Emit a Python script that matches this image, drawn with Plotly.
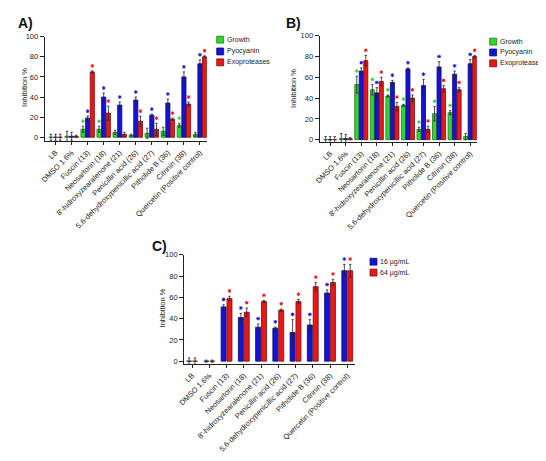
import plotly.graph_objects as go

# category labels (same for all three panels)
categories = [
    "LB", "DMSO 1.6%", "Fuscin (13)", "Neosartorin (18)",
    "8'-hidroxyzearalenone (21)", "Penicillin acid (26)",
    "5,6-dehydroxypenicillic acid (27)", "Pitholide B (36)",
    "Citrinin (38)", "Quercetin (Positive control)",
]
y_ticks = [0, 20, 40, 60, 80, 100]

# panel A
growth_a = [0, 1, 8, 8, 5, 2, 4, 6, 12, 3]
growth_a_err = [3, 5, 3, 3, 2, 1, 5, 4, 2, 2]
growth_a_sig = [0, 0, 1, 1, 0, 0, 0, 0, 1, 0]
pyo_a = [0, 1, 19, 40, 32, 37, 22, 34, 60, 73]
pyo_a_err = [3, 4, 2, 4, 3, 3, 1, 4, 5, 4]
pyo_a_sig = [0, 0, 1, 1, 1, 1, 1, 1, 1, 1]
exo_a = [0, 1, 65, 24, 3, 16, 8, 18, 33, 80]
exo_a_err = [3, 1, 1, 7, 2, 5, 6, 1, 2, 1]
exo_a_sig = [0, 0, 1, 1, 0, 1, 1, 1, 1, 1]

# panel B
growth_b = [0, 1, 53, 48, 42, 33, 10, 25, 26, 3]
growth_b_err = [3, 5, 8, 5, 1, 1, 2, 7, 2, 3]
growth_b_sig = [0, 0, 1, 1, 1, 1, 1, 1, 1, 0]
pyo_b = [0, 1, 66, 45, 55, 68, 52, 70, 63, 73]
pyo_b_err = [3, 4, 3, 5, 2, 1, 6, 5, 3, 4]
pyo_b_sig = [0, 0, 1, 1, 1, 1, 1, 1, 1, 1]
exo_b = [0, 1, 76, 56, 32, 40, 10, 49, 48, 80]
exo_b_err = [3, 1, 5, 4, 4, 3, 3, 3, 2, 1]
exo_b_sig = [0, 0, 1, 1, 1, 1, 1, 1, 1, 1]

# panel C
low_c = [0, 0, 51, 41, 32, 31, 27, 34, 64, 85]
low_c_err = [3, 1, 2, 4, 3, 1, 12, 5, 3, 6]
low_c_sig = [0, 0, 1, 1, 1, 1, 1, 1, 1, 1]
high_c = [0, 0, 59, 46, 56, 48, 56, 70, 74, 85]
high_c_err = [3, 1, 2, 4, 1, 1, 2, 4, 3, 6]
high_c_sig = [0, 0, 1, 1, 1, 1, 1, 1, 1, 1]

GREEN, GREEN_EDGE = "#2fd82f", "#1c7a1c"
BLUE, BLUE_EDGE = "#1414d6", "#0a0a6e"
RED, RED_EDGE = "#ec1616", "#7a0c0c"
FONT = "Liberation Sans, Arial, sans-serif"
W, H = 546, 461

fig = go.Figure()


def add_group(ax, series, step, width):
    n = len(series)
    for k, (vals, errs, sig, color, edge) in enumerate(series):
        shift = (k - (n - 1) / 2) * step
        xs = [i + shift for i in range(len(vals))]
        fig.add_trace(go.Bar(
            x=xs, y=vals, width=width, xaxis="x" + ax, yaxis="y" + ax,
            marker=dict(color=color, line=dict(color=edge, width=0.8)),
            error_y=dict(type="data", array=errs, color="#222",
                         thickness=0.8, width=1.2),
            showlegend=False,
        ))
        # significance stars just above the error bars
        sx = [x for x, s in zip(xs, sig) if s]
        sy = [v + e + 5 for v, e, s in zip(vals, errs, sig) if s]
        fig.add_trace(go.Scatter(
            x=sx, y=sy, mode="markers", xaxis="x" + ax, yaxis="y" + ax,
            marker=dict(symbol="asterisk-open", size=3, color=color,
                        line=dict(color=color, width=1)),
            showlegend=False, hoverinfo="skip",
        ))


add_group("", [
    (growth_a, growth_a_err, growth_a_sig, GREEN, GREEN_EDGE),
    (pyo_a, pyo_a_err, pyo_a_sig, BLUE, BLUE_EDGE),
    (exo_a, exo_a_err, exo_a_sig, RED, RED_EDGE),
], 0.29, 0.26)
add_group("2", [
    (growth_b, growth_b_err, growth_b_sig, GREEN, GREEN_EDGE),
    (pyo_b, pyo_b_err, pyo_b_sig, BLUE, BLUE_EDGE),
    (exo_b, exo_b_err, exo_b_sig, RED, RED_EDGE),
], 0.29, 0.26)
add_group("3", [
    (low_c, low_c_err, low_c_sig, BLUE, BLUE_EDGE),
    (high_c, high_c_err, high_c_sig, RED, RED_EDGE),
], 0.34, 0.29)


def px_x(p):
    return p / W


def px_y(p):
    return 1 - p / H


xcommon = dict(
    tickmode="array", tickvals=list(range(len(categories))), ticktext=categories,
    tickangle=-45, ticks="outside", ticklen=3, tickcolor="#222",
    showline=True, linecolor="#222", linewidth=1, showgrid=False,
    zeroline=False, tickfont=dict(family=FONT, size=7.5, color="#222"),
)
ycommon = dict(
    tickvals=y_ticks, ticks="outside", ticklen=4, tickcolor="#222",
    showline=True, linecolor="#222", linewidth=1, showgrid=False,
    zeroline=False, tickfont=dict(family=FONT, size=7.5, color="#222"),
)

fig.update_layout(
    width=W, height=H, margin=dict(l=0, r=0, t=0, b=0),
    paper_bgcolor="white", plot_bgcolor="white", barmode="overlay",
    font=dict(family=FONT, color="#222"),
    xaxis=dict(xcommon, domain=[px_x(31), px_x(195)], range=[-0.68, 9.43], anchor="y"),
    yaxis=dict(ycommon, domain=[px_y(131), px_y(25)], range=[-4, 100], anchor="x"),
    xaxis2=dict(xcommon, domain=[px_x(309), px_x(468)], range=[-0.68, 9.43], anchor="y2"),
    yaxis2=dict(ycommon, domain=[px_y(132), px_y(24)], range=[-2.5, 100], anchor="x2"),
    xaxis3=dict(xcommon, domain=[px_x(172), px_x(345)], range=[-0.46, 9.46], anchor="y3"),
    yaxis3=dict(ycommon, domain=[px_y(357), px_y(246)], range=[-3, 100], anchor="x3"),
)

# panel letters and y titles
for label, x, y in [("A)", 2, 11), ("B)", 273, 11), ("C)", 138, 237)]:
    fig.add_annotation(text="<b>%s</b>" % label, x=px_x(x), y=px_y(y),
                       xref="paper", yref="paper", xanchor="left", yanchor="middle",
                       showarrow=False, font=dict(size=14, color="#111"))
for x, y in [(10, 76), (283, 77), (150, 300)]:
    fig.add_annotation(text="Inhibition %", x=px_x(x), y=px_y(y), textangle=-90,
                       xref="paper", yref="paper", xanchor="center", yanchor="middle",
                       showarrow=False, font=dict(size=7.5, color="#222"))

# hand-drawn legends (tight spacing like the original)
legends = [
    (205, [28, 40, 51], [("Growth", GREEN, GREEN_EDGE), ("Pyocyanin", BLUE, BLUE_EDGE),
                         ("Exoproteases", RED, RED_EDGE)]),
    (481, [30, 41, 52], [("Growth", GREEN, GREEN_EDGE), ("Pyocyanin", BLUE, BLUE_EDGE),
                         ("Exoproteases", RED, RED_EDGE)]),
    (360, [253, 264], [("16 µg/mL", BLUE, BLUE_EDGE), ("64 µg/mL", RED, RED_EDGE)]),
]
for lx, rows, items in legends:
    for ry, (name, color, edge) in zip(rows, items):
        fig.add_shape(type="rect", xref="paper", yref="paper",
                      x0=px_x(lx), x1=px_x(lx + 7), y0=px_y(ry + 3.5), y1=px_y(ry - 3.5),
                      fillcolor=color, line=dict(color=edge, width=0.8))
        fig.add_annotation(text=name, x=px_x(lx + 9), y=px_y(ry), xref="paper",
                           yref="paper", xanchor="left", yanchor="middle",
                           showarrow=False, borderpad=0,
                           font=dict(size=7, color="#222"))

fig.write_html("out.html")
